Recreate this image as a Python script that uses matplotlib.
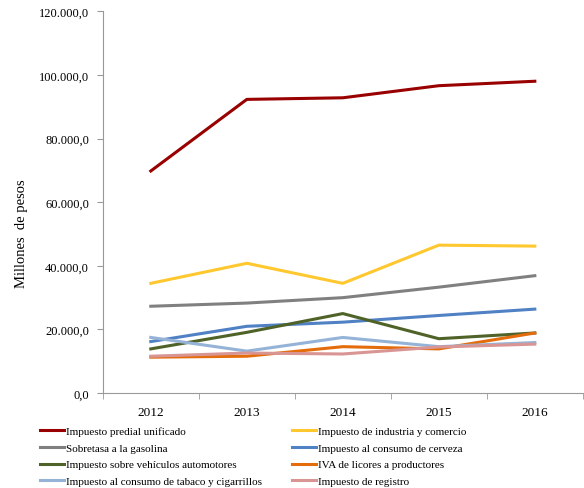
import numpy as np
import matplotlib.pyplot as plt
from matplotlib.ticker import FuncFormatter

plt.rcParams['font.family'] = ['Liberation Serif', 'DejaVu Serif']

years = ["2012", "2013", "2014", "2015", "2016"]

predial = [69800, 92300, 92800, 96600, 98000]
industria = [34500, 40800, 34500, 46500, 46200]
gasolina = [27300, 28300, 30000, 33300, 36900]
cerveza = [16200, 21000, 22300, 24400, 26400]
vehiculos = [13900, 19100, 25000, 17100, 18900]
licores = [11300, 11600, 14600, 13900, 18900]
tabaco = [17500, 13200, 17500, 14600, 15900]
registro = [11600, 12600, 12300, 14500, 15400]

series = [
    ("Impuesto predial unificado", predial, "#990000"),
    ("Impuesto de industria y comercio", industria, "#FFC82E"),
    ("Sobretasa a la gasolina", gasolina, "#808080"),
    ("Impuesto al consumo de cerveza", cerveza, "#5081C4"),
    ("Impuesto sobre vehículos automotores", vehiculos, "#4F6228"),
    ("IVA de licores a productores", licores, "#E46C0A"),
    ("Impuesto al consumo de tabaco y cigarrillos", tabaco, "#95B3D7"),
    ("Impuesto de registro", registro, "#D99594"),
]

fig = plt.figure(figsize=(5.84, 4.89), dpi=100)
ax = fig.add_axes([0.176, 0.194, 0.822, 0.781])

x = np.arange(len(years))
lines = {}
for name, vals, col in series:
    ln, = ax.plot(x, vals, color=col, lw=2.2, label=name)
    lines[name] = ln

ax.set_xlim(-0.5, 4.5)
ax.set_ylim(0, 120000)
ax.set_yticks(np.arange(0, 120001, 20000))

def fmt(v, pos):
    s = f"{v:,.1f}"
    return s.replace(",", "X").replace(".", ",").replace("X", ".")

ax.yaxis.set_major_formatter(FuncFormatter(fmt))
ax.set_xticks(x)
ax.set_xticklabels(years)
ax.set_xticks(np.arange(-0.5, 4.6, 1), minor=True)
ax.tick_params(axis="x", which="major", length=0, pad=9, labelsize=9.5)
ax.tick_params(axis="x", which="minor", length=4, color="#999999")
ax.tick_params(axis="y", length=4, color="#999999", labelsize=9, pad=6)

for s in ["top", "right"]:
    ax.spines[s].set_visible(False)
for s in ["left", "bottom"]:
    ax.spines[s].set_color("#999999")

ax.set_ylabel("Millones  de pesos", fontsize=10.5)
ax.yaxis.set_label_coords(-0.155, 0.42)

order = [
    "Impuesto predial unificado", "Sobretasa a la gasolina",
    "Impuesto sobre vehículos automotores", "Impuesto al consumo de tabaco y cigarrillos",
    "Impuesto de industria y comercio", "Impuesto al consumo de cerveza",
    "IVA de licores a productores", "Impuesto de registro",
]
fig.legend([lines[n] for n in order], order, ncol=2, loc="upper left",
           bbox_to_anchor=(0.068, 0.126), frameon=False, fontsize=8,
           handlelength=2.2, handletextpad=0.15, columnspacing=2.7,
           labelspacing=0.62, borderpad=0, borderaxespad=0)

fig.savefig("out.png", dpi=100)
